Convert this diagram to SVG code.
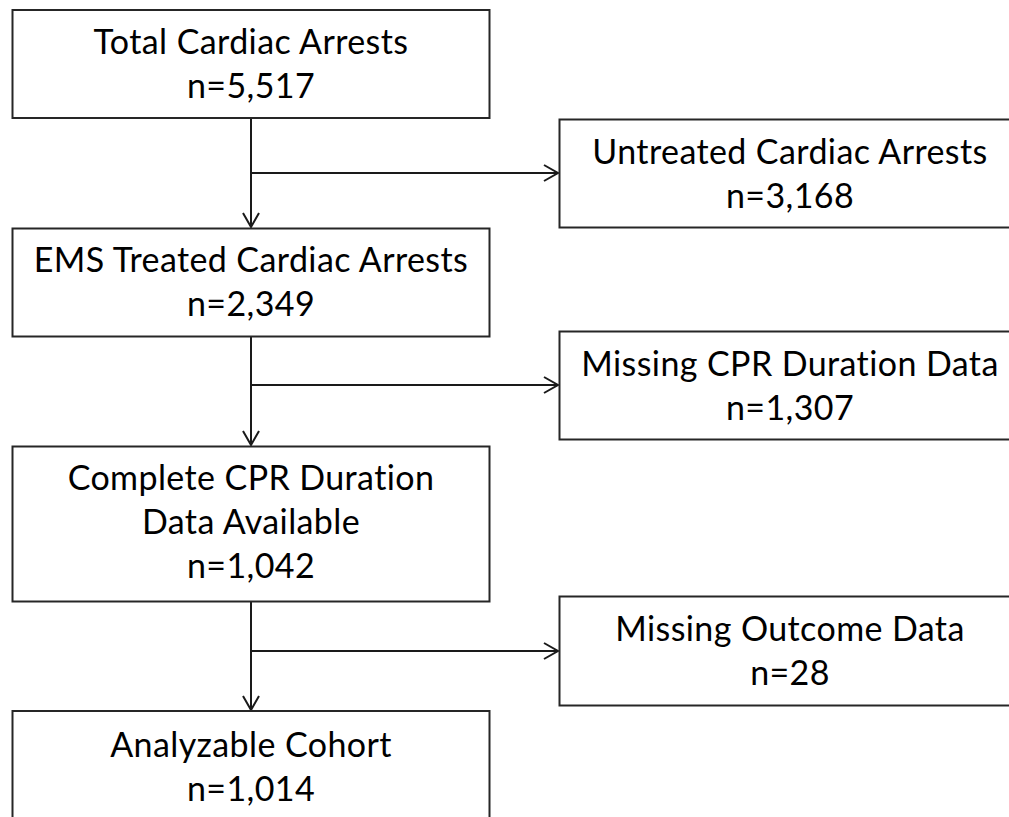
<svg xmlns="http://www.w3.org/2000/svg" width="1009" height="817" viewBox="0 0 1009 817">
<style>
.box{fill:#fff;stroke:#262626;stroke-width:2}
.lbl{font-family:Lato,"Open Sans","Liberation Sans",sans-serif;font-size:34px;letter-spacing:0.4px;font-variant-ligatures:none;fill:#000;text-anchor:middle}
.con{fill:none;stroke:#1a1a1a;stroke-width:2}
</style>
<defs>
<marker id="arr" markerUnits="userSpaceOnUse" markerWidth="20" markerHeight="20" viewBox="-16 -10 18 20" refX="0" refY="0" orient="auto">
<path d="M-14,-8 L0,0 L-14,8" fill="none" stroke="#1a1a1a" stroke-width="2"/>
</marker>
</defs>
<rect width="1009" height="817" fill="#fff"/>
<g id="connectors">
<path class="con" d="M251,118 V227" marker-end="url(#arr)"/>
<path class="con" d="M251,173 H558" marker-end="url(#arr)"/>
<path class="con" d="M251,337 V445" marker-end="url(#arr)"/>
<path class="con" d="M251,385 H558" marker-end="url(#arr)"/>
<path class="con" d="M251,602 V710" marker-end="url(#arr)"/>
<path class="con" d="M251,651 H558" marker-end="url(#arr)"/>
</g>
<g id="total">
<rect class="box" x="12.5" y="10" width="477" height="108"/>
<text class="lbl" x="251" y="54">Total Cardiac Arrests</text>
<text class="lbl" x="251" y="98">n=5,517</text>
</g>
<g id="untreated">
<rect class="box" x="559.5" y="119.5" width="462" height="108"/>
<text class="lbl" x="790" y="164">Untreated Cardiac Arrests</text>
<text class="lbl" x="790" y="208">n=3,168</text>
</g>
<g id="ems">
<rect class="box" x="12.5" y="228.5" width="477" height="108"/>
<text class="lbl" x="251" y="272">EMS Treated Cardiac Arrests</text>
<text class="lbl" x="251" y="316">n=2,349</text>
</g>
<g id="missingcpr">
<rect class="box" x="559.5" y="331.5" width="462" height="108"/>
<text class="lbl" x="790" y="376">Missing CPR Duration Data</text>
<text class="lbl" x="790" y="420">n=1,307</text>
</g>
<g id="complete">
<rect class="box" x="12.5" y="446.5" width="477" height="155"/>
<text class="lbl" x="251" y="490">Complete CPR Duration</text>
<text class="lbl" x="251" y="534">Data Available</text>
<text class="lbl" x="251" y="578">n=1,042</text>
</g>
<g id="missingoutcome">
<rect class="box" x="559.5" y="596.5" width="462" height="109"/>
<text class="lbl" x="790" y="641">Missing Outcome Data</text>
<text class="lbl" x="790" y="685">n=28</text>
</g>
<g id="analyzable">
<rect class="box" x="12.5" y="711" width="477" height="120"/>
<text class="lbl" x="251" y="757">Analyzable Cohort</text>
<text class="lbl" x="251" y="801">n=1,014</text>
</g>
</svg>
